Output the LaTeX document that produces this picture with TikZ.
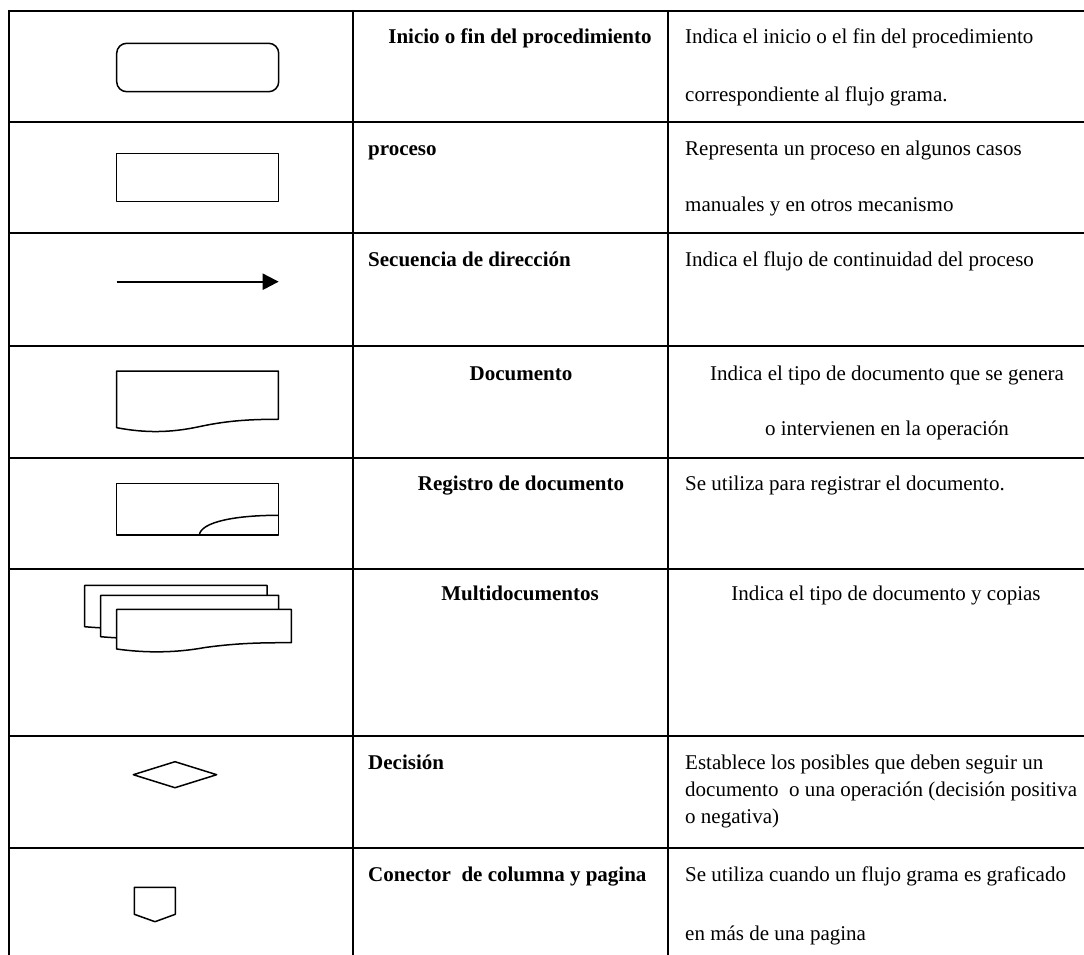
\documentclass[tikz,border=0pt]{standalone}
\usepackage{fontspec}
\setmainfont{Liberation Serif}
\usetikzlibrary{arrows.meta}
\begin{document}
\begin{tikzpicture}[x=1pt,y=-1pt,
  grid/.style={line width=2.5pt,black},
  shp/.style={line width=1.5pt,black,fill=white,line join=round},
  txt/.style={inner sep=0pt,anchor=base west,font=\fontsize{21}{25}\selectfont},
  ctxt/.style={inner sep=0pt,anchor=base,font=\fontsize{21}{25}\selectfont},
  btxt/.style={txt,font=\fontsize{21}{25}\selectfont\bfseries},
  bctxt/.style={ctxt,font=\fontsize{21}{25}\selectfont\bfseries}]
\clip (0,0) rectangle (1084,955);
\fill[white] (0,0) rectangle (1084,955);
% table grid
\foreach \yy in {11,122,233,346,458,569,736,848}
  \draw[grid] (9,\yy) -- (1090,\yy);
\draw[grid] (9,10) -- (9,960);
\draw[grid] (353,10) -- (353,960);
\draw[grid] (668,10) -- (668,960);
% row 1: terminal
\draw[shp,rounded corners=10pt] (116.7,43.3) rectangle (278.7,91.7);
% row 2: process
\draw[shp] (116.7,153.7) rectangle (278.7,201.7);
% row 3: arrow
\coordinate (a1) at (116.7,281.7);
\coordinate (a2) at (278.7,281.7);
\draw[line width=2.2pt,-{Triangle[length=16pt,width=16pt]}] (a1) -- (a2);
% row 4: document
\draw[shp] (116.7,427.7) -- (116.7,371) -- (278.3,371) -- (278.3,419.3)
  .. controls (255,419.3) and (230,420) .. (200,426.5)
  .. controls (170,433) and (145,433) .. (116.7,427.7) -- cycle;
% row 5: registro
\draw[shp] (116.7,483.3) rectangle (278.3,535);
\draw[line width=1.5pt] (199.3,535) .. controls (201,522) and (235,515.3) .. (278.3,515.3);
% row 6: multidocument
\draw[shp] (84.7,626.7) -- (84.7,585.3) -- (267,585.3) -- (267,620)
  .. controls (245,620) and (220,621) .. (170,625.5)
  .. controls (140,629) and (110,629) .. (84.7,626.7) -- cycle;
\draw[shp] (100.7,636.7) -- (100.7,595.3) -- (278.7,595.3) -- (278.7,630)
  .. controls (255,630) and (230,631) .. (186,635.5)
  .. controls (156,639) and (126,639) .. (100.7,636.7) -- cycle;
\draw[shp] (116.7,649) -- (116.7,609.3) -- (291.3,609.3) -- (291.3,642.7)
  .. controls (265,642.7) and (240,642.7) .. (205,647.5)
  .. controls (175,653) and (145,653) .. (116.7,649) -- cycle;
% row 7: decision
\draw[shp] (133.3,774.7) -- (175,761.7) -- (216.7,774.7) -- (175,787.7) -- cycle;
% row 8: off-page connector
\draw[shp] (134.3,887.3) -- (175.3,887.3) -- (175.3,914.3) -- (155,921.7) -- (134.3,914.3) -- cycle;
% texts
\node[bctxt] (t1) at (520,44) {Inicio o fin del procedimiento};
\node[txt] (d1a) at (685,44) {Indica el inicio o el fin del procedimiento};
\node[txt] (d1b) at (685,102) {correspondiente al flujo grama.};
\node[btxt] (t2) at (368,155) {proceso};
\node[txt] (d2a) at (685,155) {Representa un proceso en algunos casos};
\node[txt] (d2b) at (685,211) {manuales y en otros mecanismo};
\node[btxt] (t3) at (368,266) {Secuencia de dirección};
\node[txt] (d3a) at (685,266) {Indica el flujo de continuidad del proceso};
\node[bctxt] (t4) at (521,380) {Documento};
\node[ctxt] (d4a) at (887,380) {Indica el tipo de documento que se genera};
\node[ctxt] (d4b) at (887,435) {o intervienen en la operación};
\node[bctxt] (t5) at (521,490) {Registro de documento};
\node[txt] (d5a) at (685,490) {Se utiliza para registrar el documento.};
\node[bctxt] (t6) at (520,600) {Multidocumentos};
\node[ctxt] (d6a) at (886,600) {Indica el tipo de documento y copias};
\node[btxt] (t7) at (368,769) {Decisión};
\node[txt] (d7a) at (685,769) {Establece los posibles que deben seguir un};
\node[txt] (d7b) at (685,796) {documento\ \ o una operación (decisión positiva};
\node[txt] (d7c) at (685,823) {o negativa)};
\node[btxt] (t8) at (368,881) {Conector\ \ de columna y pagina};
\node[txt] (d8a) at (685,881) {Se utiliza cuando un flujo grama es graficado};
\node[txt] (d8b) at (685,940) {en más de una pagina};
\end{tikzpicture}
\end{document}
